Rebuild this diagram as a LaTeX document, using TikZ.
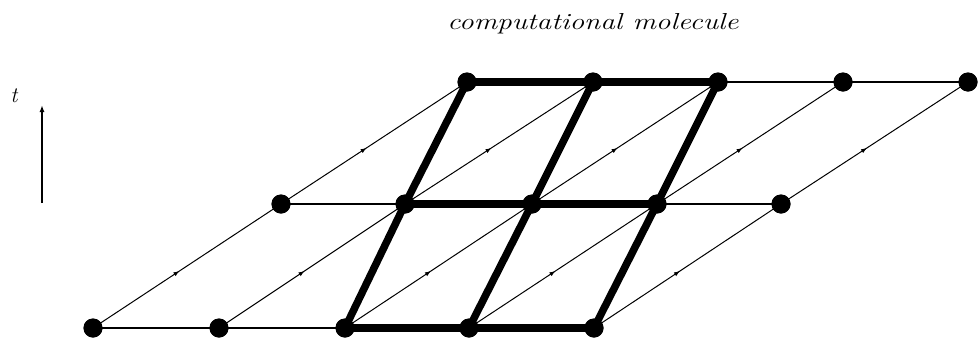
\documentclass[tikz,border=0pt]{standalone}
\usepackage{fontspec}
\usetikzlibrary{arrows.meta,decorations.markings}
\tikzset{
  dot/.style={circle,fill=black,inner sep=0pt,minimum size=19pt},
  thick line/.style={line width=7.5pt},
  flat line/.style={line width=1.5pt},
  diag line/.style={line width=1pt,
    postaction={decorate,decoration={markings,
      mark=at position 0.46 with {\arrow{Latex[length=6pt,width=4.5pt]}}}}},
  lbl/.style={font=\fontsize{22}{26}\selectfont\itshape,inner sep=0pt}
}
\begin{document}
\begin{tikzpicture}[x=1pt,y=-1pt]
\useasboundingbox (0,0) rectangle (980,341);
% nodes
\node[dot] (b1) at (93,328) {};
\node[dot] (b2) at (219,328) {};
\node[dot] (b3) at (345,328) {};
\node[dot] (b4) at (469,328) {};
\node[dot] (b5) at (594,328) {};
\node[dot] (m1) at (281,204) {};
\node[dot] (m2) at (405,204) {};
\node[dot] (m3) at (532,204) {};
\node[dot] (m4) at (657,204) {};
\node[dot] (m5) at (781,204) {};
\node[dot] (t1) at (467,82) {};
\node[dot] (t2) at (593,82) {};
\node[dot] (t3) at (718,82) {};
\node[dot] (t4) at (843,82) {};
\node[dot] (t5) at (968,82) {};
% thin horizontals
\draw[flat line] (b1.center) -- (b2.center) -- (b3.center);
\draw[flat line] (m1.center) -- (m2.center);
\draw[flat line] (m4.center) -- (m5.center);
\draw[flat line] (t3.center) -- (t4.center) -- (t5.center);
% thin diagonals with arrows
\foreach \i in {1,...,5}{
  \draw[diag line] (b\i.center) -- (m\i.center);
  \draw[diag line] (m\i.center) -- (t\i.center);
}
% thick molecule
\draw[thick line] (b3.center) -- (b4.center) -- (b5.center);
\draw[thick line] (m2.center) -- (m3.center) -- (m4.center);
\draw[thick line] (t1.center) -- (t2.center) -- (t3.center);
\draw[thick line] (b3.center) -- (m2.center) -- (t1.center);
\draw[thick line] (b4.center) -- (m3.center) -- (t2.center);
\draw[thick line] (b5.center) -- (m4.center) -- (t3.center);
% redraw dots on top
\foreach \n in {b1,b2,b3,b4,b5,m1,m2,m3,m4,m5,t1,t2,t3,t4,t5}
  \fill (\n.center) circle (9.5pt);
% time axis
\coordinate (ax0) at (42,203);
\coordinate (ax1) at (42,105);
\draw[line width=1.6pt,-{Latex[length=7pt,width=5pt]}] (ax0) -- (ax1);
\node[lbl,anchor=base] (tl) at (14,102) {t};
% title
\node[lbl,anchor=base] (title) at (593,29) {\scalebox{1.33}[1.05]{computational molecule}};
\end{tikzpicture}
\end{document}
